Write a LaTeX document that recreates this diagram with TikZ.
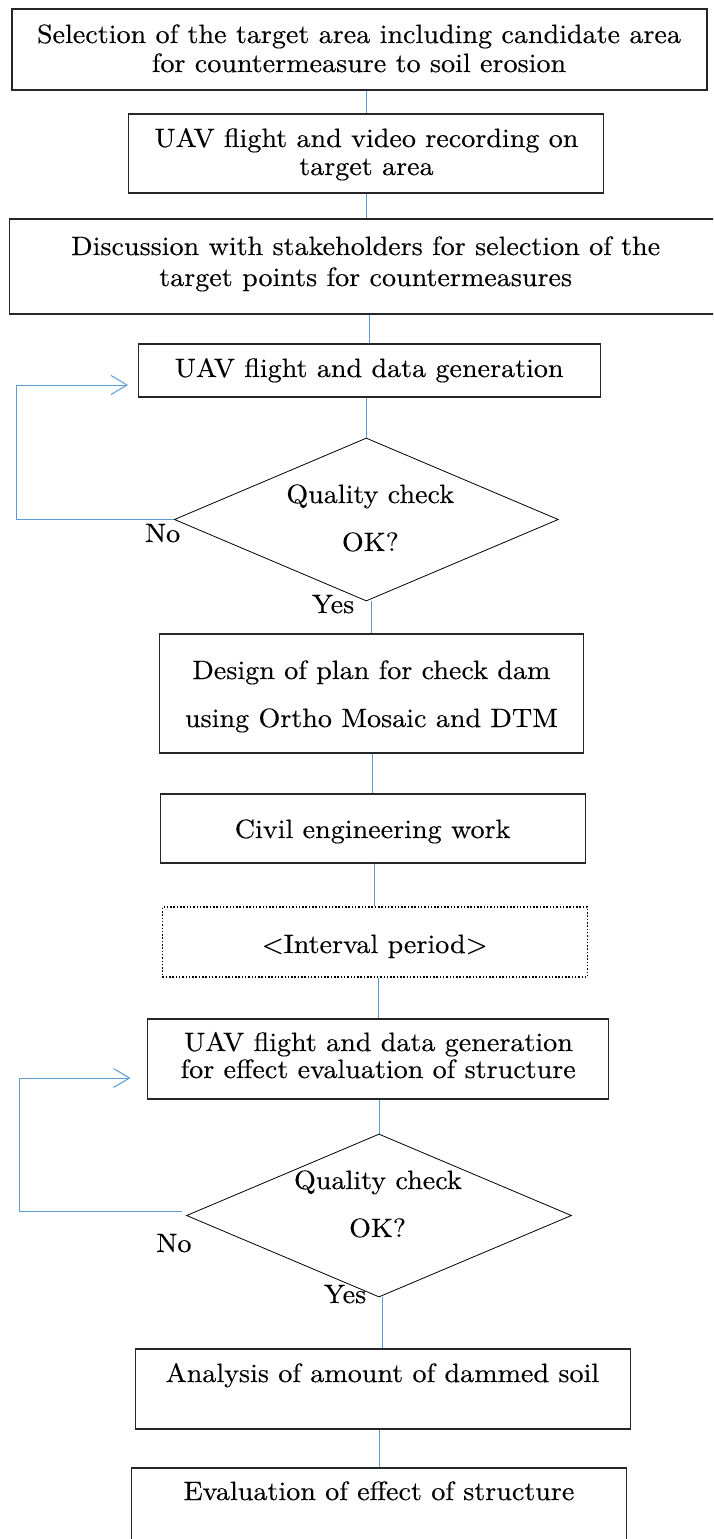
\documentclass[tikz,border=0pt]{standalone}
\usepackage{fontspec}
\setmainfont{lmroman10-regular.otf}[FakeStretch=1.06, FakeBold=0.3]
\usetikzlibrary{shapes.geometric,arrows.meta}
\definecolor{linkblue}{RGB}{91,155,213}
\definecolor{boxline}{RGB}{38,38,38}

\tikzset{
  stepbox/.style={rectangle, draw=boxline, line width=1.2pt, inner sep=0pt},
  waitbox/.style={rectangle, draw=black, line width=1.5pt, dash pattern=on 1.5pt off 1.8pt, inner sep=0pt},
  decision/.style={diamond, draw=black, line width=0.8pt, inner sep=0pt},
  link/.style={draw=linkblue, line width=1pt},
  loopback/.style={link, -{Straight Barb[length=16pt, width=19pt, line width=1pt]}},
  txt/.style={anchor=base, inner sep=0pt, font=\fontsize{26.5}{28}\selectfont},
}

\begin{document}
\begin{tikzpicture}[x=1pt, y=-1pt]
\useasboundingbox (0,0) rectangle (713,1539);
\clip (0,0) rectangle (713,1539);

% process boxes and decisions
\node[stepbox, minimum width=695pt, minimum height=81pt] (b1) at (359.5,49.5) {};
\node[stepbox, minimum width=475pt, minimum height=79pt] (b2) at (366.3,153.5) {};
\node[stepbox, minimum width=713pt, minimum height=95pt] (b3) at (366,266.5) {};
\node[stepbox, minimum width=462pt, minimum height=53pt] (b4) at (369.2,370.5) {};
\node[decision, minimum width=384pt, minimum height=163pt] (d1) at (366.3,519.5) {};
\node[stepbox, minimum width=424pt, minimum height=119pt] (b5) at (371.7,693.5) {};
\node[stepbox, minimum width=425pt, minimum height=69pt] (b6) at (372.6,828.5) {};
\node[waitbox, minimum width=425pt, minimum height=70pt] (b7) at (374.9,942) {};
\node[stepbox, minimum width=461pt, minimum height=80pt] (b8) at (378.3,1059) {};
\node[decision, minimum width=385pt, minimum height=163pt] (d2) at (379,1215.5) {};
\node[stepbox, minimum width=495pt, minimum height=80pt] (b9) at (382.9,1389) {};
\node[stepbox, minimum width=495pt, minimum height=80pt] (b10) at (379.2,1508) {};

% straight connectors
\draw[link] (b2.north |- b1.south) -- (b2.north);
\draw[link] (b2.south) -- (b2.south |- b3.north);
\draw[link] (b4.north |- b3.south) -- (b4.north);
\draw[link] (d1.north |- b4.south) -- (d1.north);
\draw[link] (b5.north |- d1.south) -- (b5.north);
\draw[link] (b6.north |- b5.south) -- (b6.north);
\draw[link] (b7.north |- b6.south) -- (b7.north);
\draw[link] (b8.north |- b7.south) -- (b8.north);
\draw[link] (d2.north |- b8.south) -- (d2.north);
\draw[link] (b9.north |- d2.south) -- (b9.north);
\draw[link] (b10.north |- b9.south) -- (b10.north);

% retry loops
\coordinate (k1) at (16,385);
\coordinate (r1) at (128,385);
\draw[loopback] (d1.west) -| (k1) -- (r1);
\coordinate (k2) at (19,1078);
\coordinate (r2) at (130.5,1078);
\draw[loopback] (d2.west) ++(-4,-4) -| (k2) -- (r2);

% labels
\node[txt] (t1a) at (359,43) {Selection of the target area including candidate area};
\node[txt] (t1b) at (359,72) {for countermeasure to soil erosion};
\node[txt] (t2a) at (366.5,147) {UAV flight and video recording on};
\node[txt] (t2b) at (366.5,175) {target area};
\node[txt] (t3a) at (365.7,255) {Discussion with stakeholders for selection of the};
\node[txt] (t3b) at (365.7,286) {target points for countermeasures};
\node[txt] (t4) at (369.2,377) {UAV flight and data generation};
\node[txt] (q1a) at (370.2,503) {Quality check};
\node[txt] (q1b) at (370.4,551) {OK?};
\node[txt] (n1) at (162.6,542) {No};
\node[txt] (y1) at (333.1,613) {Yes};
\node[txt] (t5a) at (371.4,679) {Design of plan for check dam};
\node[txt] (t5b) at (371.5,727) {using Ortho Mosaic and DTM};
\node[txt] (t6) at (372.6,838) {Civil engineering work};
\node[txt] (t7) at (374.7,953) {\textless Interval period\textgreater};
\node[txt] (t8a) at (378.5,1051) {UAV flight and data generation};
\node[txt] (t8b) at (378.2,1078) {for effect evaluation of structure};
\node[txt] (q2a) at (377.9,1189) {Quality check};
\node[txt] (q2b) at (377.6,1237) {OK?};
\node[txt] (n2) at (173.9,1252) {No};
\node[txt] (y2) at (345.1,1303) {Yes};
\node[txt] (t9) at (382.4,1382) {Analysis of amount of dammed soil};
\node[txt] (t10) at (379,1500) {Evaluation of effect of structure};
\end{tikzpicture}
\end{document}
